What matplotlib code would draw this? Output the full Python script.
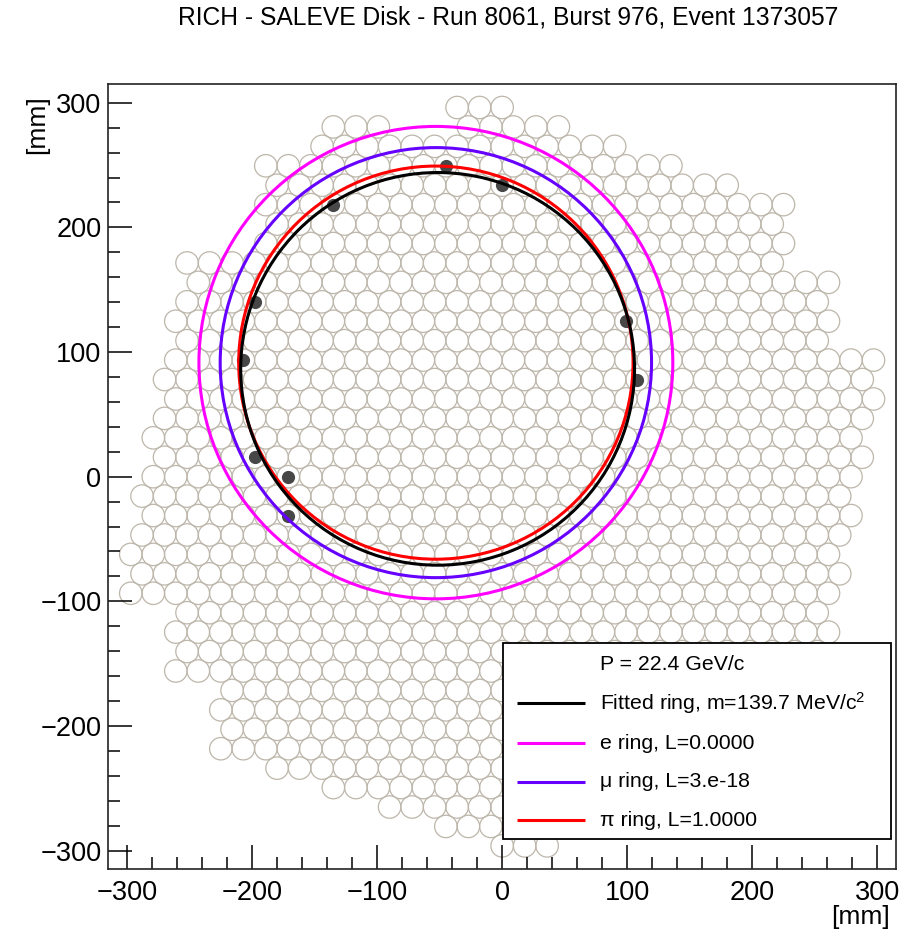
import numpy as np
import matplotlib.pyplot as plt
from matplotlib.patches import Circle, Rectangle
from matplotlib.collections import PatchCollection

# --- PMT layout (hexagonal grid) ---
# row index j (y = j * row step), first / last half-pitch column m (x = m * 9 mm)
ROW_J = list(range(19, -20, -1))
ROW_FIRST = [-4, -15, -16, -21, -20, -21, -20, -21, -28, -27, -28, -29, -28,
             -29, -30, -29, -30, -31, -30, -31, -32, -31, -32, -33, -32, -33,
             -28, -29, -28, -29, -24, -25, -24, -25, -20, -15, -10, -5, 0]
ROW_LAST = [0, 5, 10, 15, 20, 25, 24, 25, 24, 29, 28, 29, 28,
            33, 32, 33, 32, 31, 32, 31, 30, 31, 30, 29, 30, 29,
            28, 29, 28, 27, 28, 21, 20, 21, 20, 21, 16, 15, 4]
# missing PMTs inside a row: (row, first m, last m)
ROW_GAPS = [(18, -9, -5), (-18, 5, 9)]

# --- hits (mm) ---
HIT_X = [-45, 0, -135, -198, -207, -198, -171, -171, 99, 108]
HIT_Y = [249.4, 233.8, 218.2, 140.3, 93.5, 15.6, 0.0, -31.2, 124.7, 77.9]

# --- rings ---
RING_LABELS = ["e ring, L=0.0000", "\u03bc ring, L=3.e-18", "\u03c0 ring, L=1.0000",
               "Fitted ring, m=139.7 MeV/c$^{2}$"]
RING_X = [-53.0, -53.0, -53.0, -51.6]
RING_Y = [91.5, 91.5, 91.5, 86.5]
RING_R = [189.5, 172.5, 157.7, 157.5]
RING_COLORS = ["#ff00ff", "#6600ff", "#ff0000", "#000000"]

MOMENTUM_TEXT = "P = 22.4 GeV/c"
TITLE = "RICH - SALEVE Disk - Run 8061, Burst 976, Event 1373057"

# --- style ---
PITCH = 18.0
PMT_RADIUS = 9.0
PMT_COLOR = "#bdb6aa"
HIT_COLOR = "#474747"
LIMIT = 315

plt.rcParams['font.family'] = ['Liberation Sans', 'DejaVu Sans']
plt.rcParams['mathtext.fontset'] = 'custom'
plt.rcParams['mathtext.rm'] = 'Liberation Sans'
plt.rcParams['mathtext.default'] = 'regular'

fig = plt.figure(figsize=(9.2, 9.39), dpi=100)
ax = fig.add_axes([0.1177, 0.0742, 0.8562, 0.8363])

# PMTs
half = PITCH / 2
row_step = PITCH * np.sqrt(3) / 2
gaps = {g[0]: (g[1], g[2]) for g in ROW_GAPS}
pmts = []
for j, m0, m1 in zip(ROW_J, ROW_FIRST, ROW_LAST):
    for m in range(m0, m1 + 1, 2):
        if j in gaps and gaps[j][0] <= m <= gaps[j][1]:
            continue
        pmts.append(Circle((m * half, j * row_step), PMT_RADIUS))
ax.add_collection(PatchCollection(pmts, facecolor='none', edgecolor=PMT_COLOR,
                                  linewidth=0.9, zorder=1))

# hits
ax.plot(HIT_X, HIT_Y, 'o', color=HIT_COLOR, ms=9.5, mec='none', zorder=2)

# rings
for cx, cy, r, c in zip(RING_X, RING_Y, RING_R, RING_COLORS):
    ax.add_patch(Circle((cx, cy), r, fill=False, edgecolor=c, linewidth=2.2, zorder=3))

ax.set_xlim(-LIMIT, LIMIT)
ax.set_ylim(-LIMIT, LIMIT)
ax.set_xticks(range(-300, 301, 100))
ax.set_yticks(range(-300, 301, 100))
ax.set_xticks(range(-300, 301, 20), minor=True)
ax.set_yticks(range(-300, 301, 20), minor=True)
ax.tick_params(which='both', direction='in', top=False, right=False, width=1.1)
ax.tick_params(which='major', length=17.5, labelsize=19.5)
ax.tick_params(axis='x', which='major', pad=8)
ax.tick_params(axis='y', which='major', pad=5)
ax.tick_params(which='minor', length=8.8)
for s in ax.spines.values():
    s.set_linewidth(1.2)
    s.set_color('#222222')

# legend box (ROOT style)
ax.add_patch(Rectangle((0.5007, 0.0382), 0.4926, 0.2496, transform=ax.transAxes,
                       facecolor='white', edgecolor='black', linewidth=1.3, zorder=5))
row_y = [0.2602, 0.2114, 0.1604, 0.1115, 0.0627]
ax.text(0.6241, row_y[0], MOMENTUM_TEXT, transform=ax.transAxes, fontsize=15.3,
        va='center', ha='left', zorder=6)
legend_order = [3, 0, 1, 2]
for y, k in zip(row_y[1:], legend_order):
    ax.plot([0.5189, 0.6052], [y, y], color=RING_COLORS[k], lw=2.2,
            transform=ax.transAxes, zorder=6, solid_capstyle='butt')
    ax.text(0.6241, y, RING_LABELS[k], transform=ax.transAxes, fontsize=15.3,
            va='center', ha='left', zorder=6)

fig.text(0.552, 0.981, TITLE, ha='center', va='center', fontsize=17.7)
fig.text(0.967, 0.0234, "[mm]", ha='right', va='center', fontsize=19)
fig.text(0.040, 0.899, "[mm]", ha='center', va='top', rotation=90, fontsize=19)

fig.savefig("out.png", dpi=100)
